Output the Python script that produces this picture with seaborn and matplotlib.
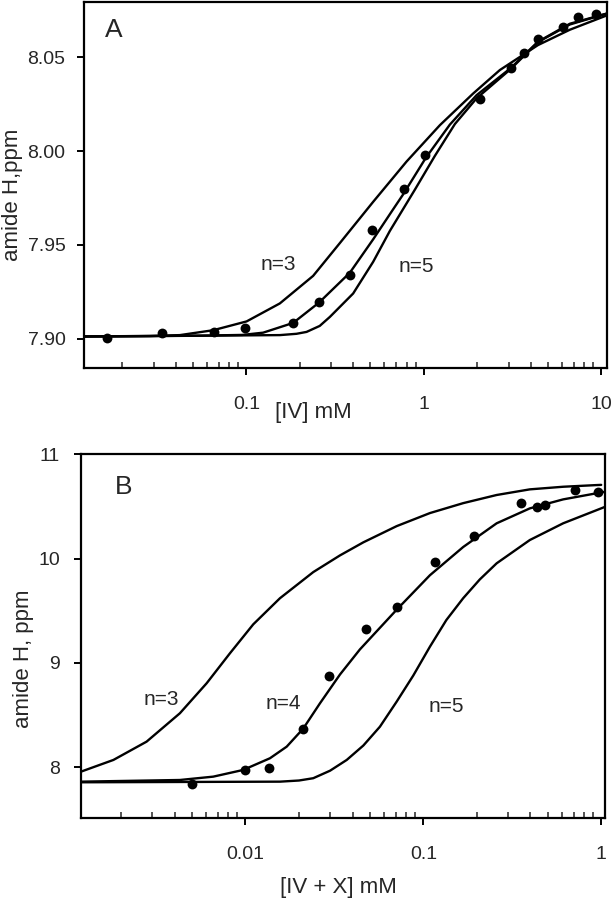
import numpy as np
import pandas as pd
import seaborn as sns
import matplotlib.pyplot as plt
from matplotlib.ticker import LogLocator, NullFormatter

# ---- panel A : [IV] titration ----
a_pts_x = [0.0165, 0.0333, 0.066, 0.098, 0.184, 0.257, 0.383, 0.512, 0.77, 1.02,
           2.07, 3.08, 3.67, 4.41, 6.1, 7.4, 9.3]
a_pts_y = [7.9004, 7.9028, 7.9036, 7.9058, 7.9086, 7.9193, 7.9339, 7.958, 7.980, 7.998,
           8.028, 8.0442, 8.0522, 8.0597, 8.066, 8.0714, 8.073]

a_n3_x = [0.0121, 0.0286, 0.0422, 0.065, 0.1003, 0.1544, 0.2378, 0.3363, 0.518, 0.799,
          1.231, 1.896, 2.679, 4.39, 6.64, 10.7]
a_n3_y = [7.9012, 7.9014, 7.9019, 7.9045, 7.9092, 7.9188, 7.9335, 7.951, 7.973, 7.9945,
          8.0139, 8.0308, 8.0433, 8.0566, 8.0648, 8.0724]

a_n4_x = [0.0121, 0.0547, 0.095, 0.1243, 0.1835, 0.257, 0.383, 0.518, 0.671, 0.7646,
          1.026, 1.401, 1.981, 3.08, 4.39, 6.64, 10.7]
a_n4_y = [7.9012, 7.9016, 7.902, 7.9032, 7.9084, 7.9193, 7.9352, 7.953, 7.969, 7.977,
          7.9965, 8.0142, 8.0299, 8.0443, 8.0584, 8.068, 8.0734]

a_n5_x = [0.0121, 0.1544, 0.1917, 0.2183, 0.259, 0.2954, 0.3996, 0.518, 0.6434, 0.89,
          1.153, 1.495, 1.981, 3.08, 4.39, 6.64, 10.7]
a_n5_y = [7.9011, 7.9019, 7.9026, 7.9036, 7.9068, 7.9116, 7.9241, 7.941, 7.9575, 7.9795,
          7.9975, 8.0145, 8.0282, 8.0438, 8.0582, 8.0676, 8.0734]

# ---- panel B : [IV + X] titration ----
b_pts_x = [0.00498, 0.0099, 0.0136, 0.0211, 0.0296, 0.0476, 0.0708, 0.1162, 0.1933,
           0.352, 0.4335, 0.4826, 0.711, 0.962]
b_pts_y = [7.842, 7.976, 7.998, 8.371, 8.878, 9.322, 9.539, 9.969, 10.218,
           10.528, 10.496, 10.512, 10.656, 10.64]

b_n3_x = [0.00119, 0.00181, 0.00278, 0.00428, 0.00605, 0.00818, 0.01106, 0.01563, 0.02405,
          0.034, 0.046, 0.0708, 0.1089, 0.1675, 0.2583, 0.397, 0.611, 0.942, 1.0]
b_n3_y = [7.96, 8.072, 8.247, 8.519, 8.806, 9.093, 9.37, 9.62, 9.87,
          10.03, 10.155, 10.31, 10.435, 10.53, 10.608, 10.662, 10.687, 10.703, 10.705]

b_n4_x = [0.00119, 0.00428, 0.00659, 0.0097, 0.01373, 0.01705, 0.0211, 0.02623, 0.034,
          0.044, 0.0708, 0.1089, 0.1675, 0.2583, 0.397, 0.611, 1.056]
b_n4_y = [7.864, 7.88, 7.912, 7.976, 8.088, 8.199, 8.371, 8.614, 8.89,
          9.13, 9.51, 9.84, 10.11, 10.337, 10.48, 10.566, 10.64]

b_n5_x = [0.00119, 0.01563, 0.02, 0.02405, 0.0299, 0.0371, 0.046, 0.057, 0.0708, 0.0878,
          0.1089, 0.1347, 0.1675, 0.2078, 0.2583, 0.397, 0.611, 1.056]
b_n5_y = [7.858, 7.864, 7.875, 7.897, 7.969, 8.072, 8.21, 8.39, 8.63, 8.88,
          9.156, 9.411, 9.62, 9.80, 9.954, 10.177, 10.337, 10.496]

sns.set_style("ticks")
plt.rcParams['font.family'] = ['Liberation Sans', 'DejaVu Sans']

fig = plt.figure(figsize=(6.14, 9.0), dpi=100)
axA = fig.add_axes([0.136, 0.591, 0.8526, 0.407])
axB = fig.add_axes([0.132, 0.0911, 0.854, 0.4044])


def draw_panel(ax, curves, px, py):
    ax.set_xscale('log')
    for cx, cy in curves:
        sns.lineplot(x=cx, y=cy, ax=ax, color='black', lw=1.7, sort=False, estimator=None)
    sns.scatterplot(x=px, y=py, ax=ax, color='black', s=50, linewidth=0, zorder=3)
    for sp in ax.spines.values():
        sp.set_linewidth(1.6)
        sp.set_color('black')
    ax.xaxis.set_minor_locator(LogLocator(base=10, subs=np.arange(2, 10)))
    ax.xaxis.set_minor_formatter(NullFormatter())
    ax.tick_params(which='major', direction='out', length=5, width=1.4,
                   labelsize=14, color='black')
    ax.tick_params(axis='x', which='major', pad=15)
    ax.tick_params(axis='x', which='minor', direction='in', length=4, width=1.1)


draw_panel(axA, [(a_n3_x, a_n3_y), (a_n4_x, a_n4_y), (a_n5_x, a_n5_y)], a_pts_x, a_pts_y)
axA.set_xlim(0.0121, 10.75)
axA.set_ylim(7.8843, 8.0797)
axA.set_xticks([0.1, 1, 10])
axA.set_xticklabels(['0.1', '1', '10'])
axA.set_yticks([7.90, 7.95, 8.00, 8.05])
axA.set_yticklabels(['7.90', '7.95', '8.00', '8.05'])
axA.tick_params(axis='y', pad=8)
axA.set_xlabel('[IV] mM', fontsize=16)
axA.xaxis.set_label_coords(0.44, -0.12)
axA.xaxis.label.set_va('center')
axA.set_ylabel('amide H,ppm', fontsize=16)
axA.yaxis.set_label_coords(-0.135, 0.472)
axA.yaxis.label.set_va('center')
axA.text(0.058, 0.923, 'A', transform=axA.transAxes, fontsize=19, ha='center', va='center')
axA.text(0.152, 7.9395, 'n=3', fontsize=15, ha='center', va='center')
axA.text(0.91, 7.9385, 'n=5', fontsize=15, ha='center', va='center')

draw_panel(axB, [(b_n3_x, b_n3_y), (b_n4_x, b_n4_y), (b_n5_x, b_n5_y)], b_pts_x, b_pts_y)
axB.set_xlim(0.00119, 1.056)
axB.set_ylim(7.516, 11.0)
axB.set_xticks([0.01, 0.1, 1])
axB.set_xticklabels(['0.01', '0.1', '1'])
axB.set_yticks([8, 9, 10, 11])
axB.set_yticklabels(['8', '9', '10', '11'])
axB.tick_params(axis='y', pad=10)
axB.set_xlabel('[IV + X] mM', fontsize=16)
axB.xaxis.set_label_coords(0.491, -0.19)
axB.xaxis.label.set_va('center')
axB.set_ylabel('amide H, ppm', fontsize=16)
axB.yaxis.set_label_coords(-0.11, 0.437)
axB.yaxis.label.set_va('center')
axB.text(0.0806, 0.91, 'B', transform=axB.transAxes, fontsize=19, ha='center', va='center')
axB.text(0.00338, 8.646, 'n=3', fontsize=15, ha='center', va='center')
axB.text(0.0163, 8.614, 'n=4', fontsize=15, ha='center', va='center')
axB.text(0.1352, 8.582, 'n=5', fontsize=15, ha='center', va='center')

fig.savefig('out.png', dpi=100)
